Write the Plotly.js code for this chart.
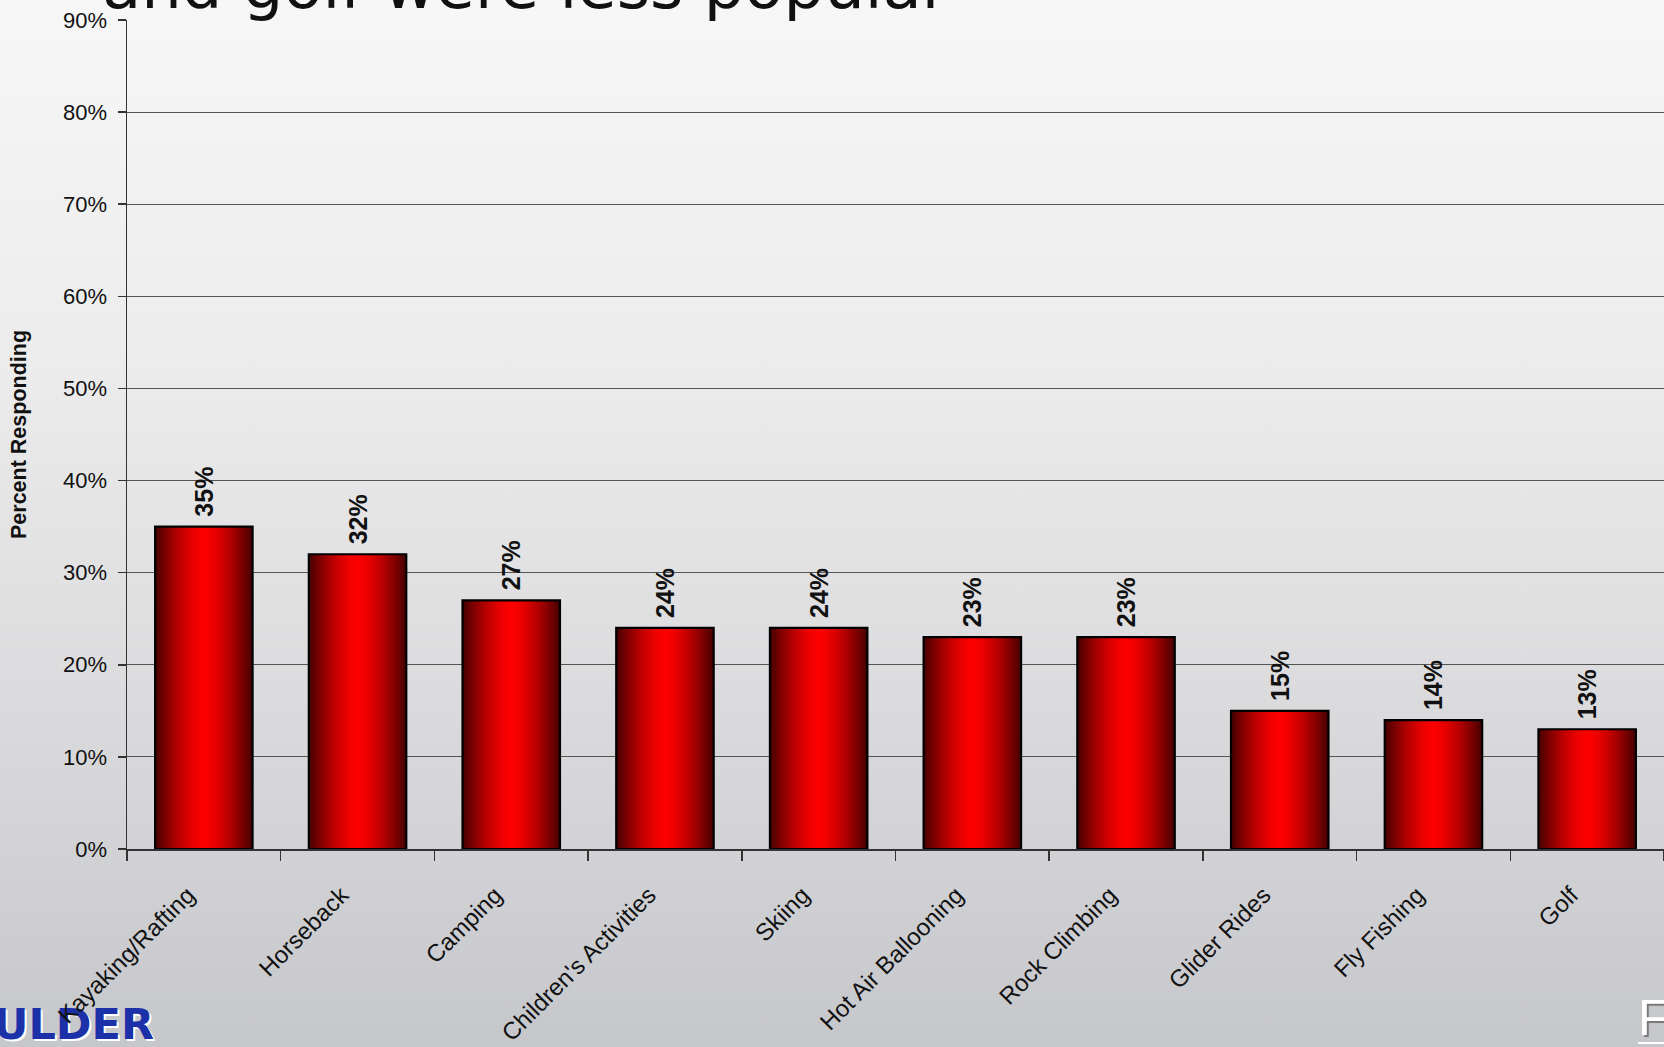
<!DOCTYPE html>
<html>
<head>
<meta charset="utf-8">
<script src="https://cdn.plot.ly/plotly-3.0.1.min.js"></script>
<style>
  html, body { margin: 0; padding: 0; width: 1664px; height: 1047px; overflow: hidden; position: relative;
    background: linear-gradient(to bottom, #f7f7f7 0%, #ececed 35%, #dcdcde 65%, #c6c7cb 100%); }
  #chart { position: absolute; left: 0; top: 0; width: 1664px; height: 1047px; z-index: 2; }
  #logo { position: absolute; right: 1510px; top: 1002px; text-align: right; z-index: 1;
    font-family: "DejaVu Sans", Verdana, sans-serif; font-weight: bold; font-size: 43px; line-height: 44px;
    color: #1c30a8; text-shadow: 2px 2px 0 #ffffff; white-space: nowrap; }
  #corner { position: absolute; left: 1638px; top: 993px; z-index: 1;
    font-family: "Liberation Sans", Arial, sans-serif; font-size: 50px; line-height: 50px;
    color: #ffffff; text-shadow: 2px 2px 1px #777777; white-space: nowrap; }
  #cornerline { position: absolute; left: 1638px; top: 1042px; width: 26px; height: 2px; background: #ffffff; z-index: 1; }
</style>
</head>
<body>
<div id="logo"></div>
<div id="corner"></div>
<div id="cornerline"></div>
<div id="chart"></div>
<script>
const categories = ["Kayaking/Rafting", "Horseback", "Camping", "Children's Activities", "Skiing",
                    "Hot Air Ballooning", "Rock Climbing", "Glider Rides", "Fly Fishing", "Golf"];
const values = [35, 32, 27, 24, 24, 23, 23, 15, 14, 13];
const valueLabels = ["35%", "32%", "27%", "24%", "24%", "23%", "23%", "15%", "14%", "13%"];
const yTickVals = [0, 10, 20, 30, 40, 50, 60, 70, 80, 90];
const yTickText = ["0%", "10%", "20%", "30%", "40%", "50%", "60%", "70%", "80%", "90%"];
const titleText = "and golf were less popular";
const yAxisTitle = "Percent Responding";
const logoText = "ULDER";
const cornerText = "F";

document.getElementById('logo').textContent = logoText;
document.getElementById('corner').textContent = cornerText;

const barW = 0.634;
const layers = 16;
const traces = [];
for (let k = 0; k < layers; k++) {
  const d = 1 - k / layers;
  const f = 1 - 0.7 * Math.pow(d, 1.5);
  const c = 'rgb(' + Math.round(255 * f) + ',0,0)';
  traces.push({
    type: 'bar', x: categories, y: values,
    width: categories.map(() => barW * d),
    marker: { color: c, line: { width: 0 } },
    hoverinfo: 'skip', showlegend: false
  });
}
traces.push({
  type: 'bar', x: categories, y: values,
  width: categories.map(() => barW),
  marker: { color: 'rgba(0,0,0,0)', line: { color: '#000', width: 2.2 } },
  text: valueLabels.map(s => '\u00a0' + s), textposition: 'outside', textangle: -90, constraintext: 'none',
  cliponaxis: false,
  outsidetextfont: { family: '"Liberation Sans", Arial, sans-serif', size: 25, color: '#111', weight: 'bold' },
  showlegend: false
});

const fontA = '"Liberation Sans", Arial, sans-serif';
const layout = {
  width: 1664, height: 1047,
  paper_bgcolor: 'rgba(0,0,0,0)', plot_bgcolor: 'rgba(0,0,0,0)',
  margin: { l: 127, r: 0, t: 20, b: 198 },
  barmode: 'overlay',
  showlegend: false,
  xaxis: {
    type: 'category', range: [-0.5, 9.5],
    showline: true, linecolor: '#333', linewidth: 1.5,
    showgrid: false, ticks: 'outside', tickson: 'boundaries', ticklen: 10, tickcolor: '#333', tickwidth: 1.5,
    tickangle: -45, ticklabelstandoff: 21, ticklabelshift: -16,
    tickfont: { family: fontA, size: 24, color: '#111' }
  },
  yaxis: {
    range: [0, 90], tickvals: yTickVals, ticktext: yTickText,
    showline: true, linecolor: '#333', linewidth: 1.5,
    showgrid: true, gridcolor: '#555', gridwidth: 1, zeroline: false,
    ticks: 'outside', ticklen: 8, tickcolor: '#333', tickwidth: 1.5, ticklabelstandoff: 6,
    tickfont: { family: fontA, size: 22, color: '#111' },
    title: { text: yAxisTitle, standoff: 30, font: { family: fontA, size: 21.5, color: '#111', weight: 'bold' } }
  },
  annotations: [
    { text: titleText, xref: 'paper', yref: 'paper', x: (100 - 127) / 1537, y: 1.041, xanchor: 'left', yanchor: 'middle',
      showarrow: false, font: { family: '"DejaVu Sans", Verdana, sans-serif', size: 64, color: '#111' } }
  ]
};

Plotly.newPlot('chart', traces, layout, { displayModeBar: false, staticPlot: true });
</script>
</body>
</html>
